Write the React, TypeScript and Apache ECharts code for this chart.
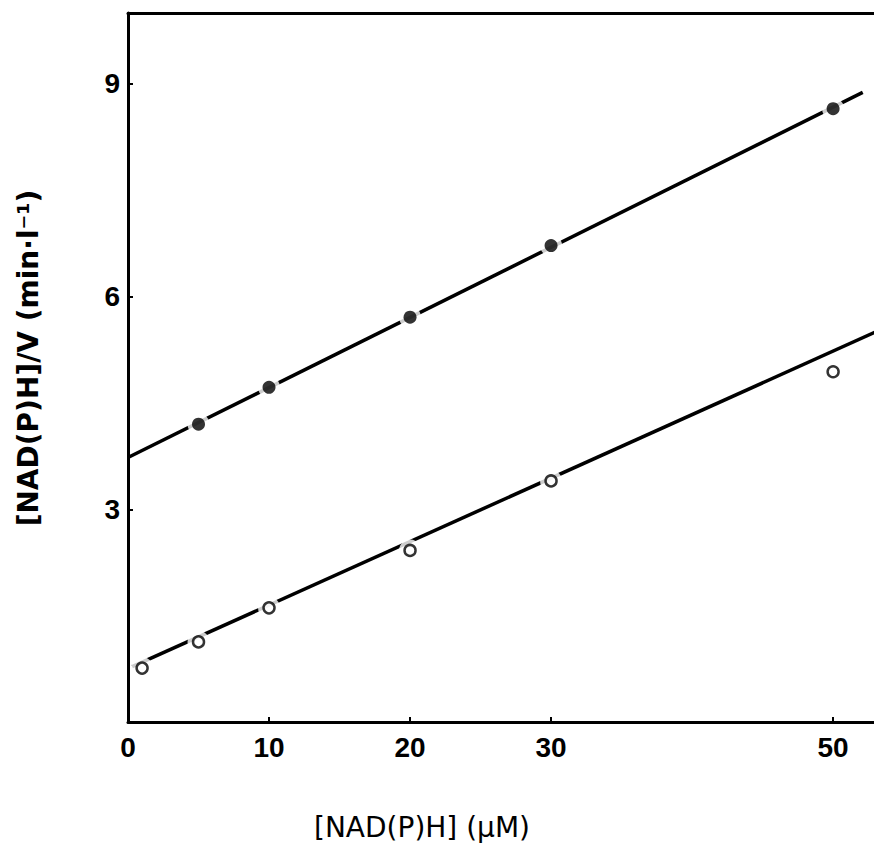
import React, { useEffect, useRef } from "react";
import * as echarts from "echarts";

// Data
const filledX = [5, 10, 20, 30, 50];
const filledY = [4.2, 4.72, 5.71, 6.72, 8.65];
const openX = [1, 5, 10, 20, 30, 50];
const openY = [0.76, 1.13, 1.61, 2.42, 3.4, 4.94];
// fitted lines (endpoints)
const filledFitX = [0, 52.1];
const filledFitY = [3.73, 8.88];
const openFitX = [0.3, 53];
const openFitY = [0.78, 5.5];

const xTicks = [0, 10, 20, 30, 50];
const yTicks = [3, 6, 9];

const zip = (xs: number[], ys: number[]) => xs.map((x, i) => [x, ys[i]]);

export default function App() {
  const ref = useRef<HTMLDivElement>(null);
  useEffect(() => {
    if (!ref.current) return;
    const chart = echarts.init(ref.current, null, { renderer: "svg" });
    const font = "Liberation Sans";
    const titleFont = "DejaVu Sans";
    chart.setOption({
      animation: false,
      backgroundColor: "#ffffff",
      grid: { left: 128, right: 0, top: 13, bottom: 123, containLabel: false },
      xAxis: [
        {
          type: "value",
          min: 0,
          max: 52.9,
          splitLine: { show: false },
          axisLine: { show: true, onZero: false, lineStyle: { color: "#000", width: 3 } },
          axisTick: {
            show: true,
            inside: true,
            length: 5,
            lineStyle: { color: "#000", width: 2 },
            customValues: xTicks,
          },
          axisLabel: {
            color: "#000",
            fontFamily: font,
            fontSize: 28,
            fontWeight: "bold",
            margin: 11,
            customValues: xTicks,
          },
        },
        {
          type: "value",
          position: "top",
          min: 0,
          max: 52.9,
          splitLine: { show: false },
          axisLine: { show: true, onZero: false, lineStyle: { color: "#000", width: 3 } },
          axisTick: { show: false },
          axisLabel: { show: false },
        },
      ],
      yAxis: {
        type: "value",
        min: 0,
        max: 10,
        splitLine: { show: false },
        axisLine: { show: true, onZero: false, lineStyle: { color: "#000", width: 3 } },
        axisTick: {
          show: true,
          inside: true,
          length: 5,
          lineStyle: { color: "#000", width: 2 },
          customValues: yTicks,
        },
        axisLabel: {
          color: "#000",
          fontFamily: font,
          fontSize: 28,
          fontWeight: "bold",
          margin: 8,
          customValues: yTicks,
        },
      },
      graphic: [
        {
          type: "text",
          x: 28,
          y: 358,
          rotation: Math.PI / 2,
          style: {
            text: "[NAD(P)H]/V (min·l⁻¹)",
            fontFamily: titleFont,
            fontSize: 28,
            fontWeight: "bold",
            fill: "#000",
            align: "center",
            verticalAlign: "middle",
          },
        },
        {
          type: "text",
          x: 422,
          y: 827,
          style: {
            text: "[NAD(P)H] (μM)",
            fontFamily: titleFont,
            fontSize: 28,
            fill: "#000",
            align: "center",
            verticalAlign: "middle",
          },
        },
      ],
      series: [
        {
          type: "line",
          data: zip(filledFitX, filledFitY),
          symbol: "none",
          lineStyle: { color: "#000", width: 3.5 },
          z: 2,
        },
        {
          type: "line",
          data: zip(openFitX, openFitY),
          symbol: "none",
          lineStyle: { color: "#000", width: 3.5 },
          z: 2,
        },
        {
          type: "scatter",
          data: zip(filledX, filledY).concat(zip(openX, openY)),
          symbol: "circle",
          symbolSize: 22,
          itemStyle: { color: "#fff" },
          z: 3,
        },
        {
          type: "scatter",
          data: zip(filledX, filledY),
          symbol: "circle",
          symbolSize: 13,
          itemStyle: { color: "#000" },
          z: 4,
        },
        {
          type: "scatter",
          data: zip(openX, openY),
          symbol: "circle",
          symbolSize: 11,
          itemStyle: { color: "#fff", borderColor: "#000", borderWidth: 2.5 },
          z: 4,
        },
      ],
    });
    return () => chart.dispose();
  }, []);
  return (
    <div
      ref={ref}
      style={{ position: "fixed", left: 0, top: 0, width: 874, height: 845 }}
    />
  );
}
